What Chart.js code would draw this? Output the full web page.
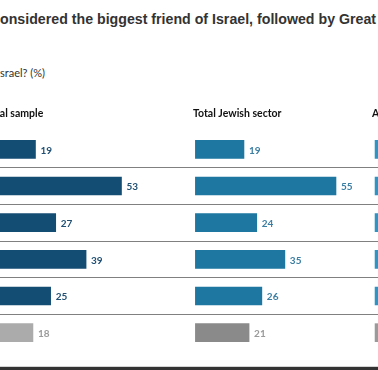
<!DOCTYPE html>
<html>
<head>
<meta charset="utf-8">
<script src="https://cdn.jsdelivr.net/npm/chart.js@4.4.1/dist/chart.umd.min.js"></script>
<style>
  html, body { margin: 0; padding: 0; background: #fff; }
  body { width: 378px; height: 370px; position: relative; overflow: hidden; }
  .title { position: absolute; left: 0; top: 12px; white-space: nowrap; font: bold 14.2px/1 "Liberation Sans", Arial, sans-serif; color: #333; }
  .subtitle { position: absolute; left: 0; top: 67px; white-space: nowrap; font: 11px/1 Lato, sans-serif; color: #333; }
  canvas { position: absolute; top: 100px; }
  .foot { position: absolute; left: 0; right: 0; top: 366px; height: 1px; background: #d4d4d4; }
  .band { position: absolute; left: 0; right: 0; top: 367px; height: 3px; background: #333; }
</style>
</head>
<body>
<div class="title">onsidered the biggest friend of Israel, followed by Great</div>
<div class="subtitle">srael? (%)</div>
<canvas id="p1" width="211" height="251" style="left:-15px"></canvas>
<canvas id="p2" width="183" height="251" style="left:193px"></canvas>
<canvas id="p3" width="200" height="251" style="left:372px"></canvas>
<div class="foot"></div>
<div class="band"></div>
<script>
// rows (answer labels are cut off in the picture)
const rows = ['Row 1', 'Row 2', 'Row 3', 'Row 4', 'Row 5', "Don't know"]

const totalSample = [19, 53, 27, 39, 25, 18]
const jewishSector = [19, 55, 24, 35, 26, 21]
// only a sliver of this panel is visible, values are a guess
const arabSector = [17, 37, 40, 54, 20, 8]

const panelTitles = ['Total sample', 'Total Jewish sector', 'Arab sector']

const valueLabels = {
  id: 'valueLabels',
  afterDatasetsDraw (chart, args, opts) {
    const ctx = chart.ctx
    const meta = chart.getDatasetMeta(0)
    const values = chart.data.datasets[0].data
    ctx.save()
    ctx.font = 'bold 10px Lato, sans-serif'
    ctx.textBaseline = 'middle'
    meta.data.forEach((bar, i) => {
      ctx.fillStyle = i === values.length - 1 ? '#9a9a9a' : opts.color
      ctx.fillText(values[i], bar.x + 5, bar.y + 1)
    })
    ctx.restore()
  }
}

function panel (id, title, values, main, other, labelColor, min, max) {
  // eslint-disable-next-line no-new
  new Chart(document.getElementById(id), {
    type: 'bar',
    data: {
      labels: rows,
      datasets: [{
        data: values,
        backgroundColor: values.map((v, i) => i === values.length - 1 ? other : main),
        barThickness: 18
      }]
    },
    options: {
      indexAxis: 'y',
      responsive: false,
      animation: false,
      layout: { padding: 0 },
      plugins: {
        legend: { display: false },
        tooltip: { enabled: false },
        title: {
          display: true,
          text: title,
          align: 'start',
          color: '#111',
          font: { family: 'Lato, sans-serif', size: 10.5, weight: 'bold' },
          padding: { top: 7, bottom: 11.4 }
        },
        valueLabels: { color: labelColor }
      },
      scales: {
        x: { display: false, min: min, max: max },
        y: {
          ticks: { display: false },
          border: { display: false },
          grid: {
            drawTicks: false,
            color: (ctx) => (ctx.index === 0 || ctx.index >= rows.length) ? 'rgba(0,0,0,0)' : '#808080'
          }
        }
      }
    },
    plugins: [valueLabels]
  })
}

panel('p1', panelTitles[0], totalSample, '#144d74', '#ababab', '#1f4f73', -0.95, 82.45)
panel('p2', panelTitles[1], jewishSector, '#1d77a1', '#8a8a8a', '#3a7ea3', -0.94, 70.66)
panel('p3', panelTitles[2], arabSector, '#2a95c6', '#9a9a9a', '#3a8fb8', -1.2, 77.2)
</script>
</body>
</html>
